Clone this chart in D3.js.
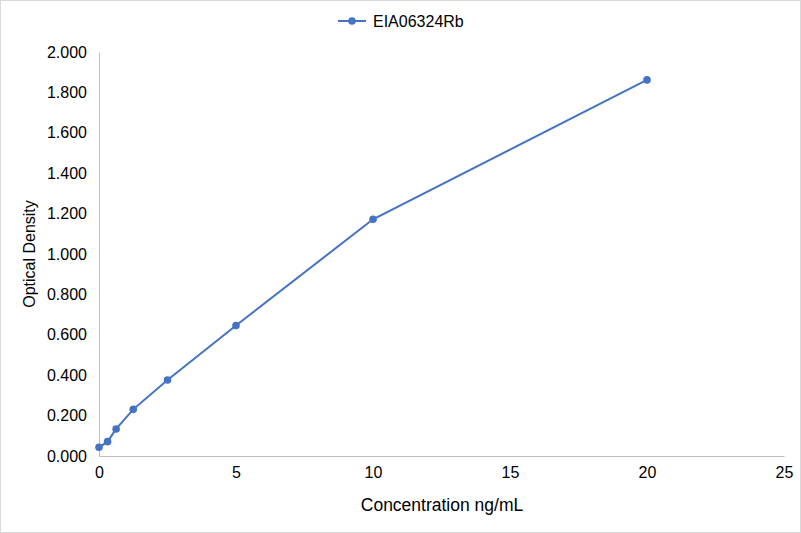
<!DOCTYPE html>
<html>
<head>
<meta charset="utf-8">
<script src="https://cdn.jsdelivr.net/npm/d3@7"></script>
<style>
  body { margin: 0; background: #fff; }
  text { font-family: "Liberation Sans", Arial, sans-serif; fill: #000; }
</style>
</head>
<body>
<script>
// standard curve data
var seriesName = "EIA06324Rb";
var concentrations = [0, 0.3125, 0.625, 1.25, 2.5, 5, 10, 20];
var densities = [0.043, 0.071, 0.134, 0.231, 0.376, 0.646, 1.172, 1.862];
var xTicks = [0, 5, 10, 15, 20, 25];
var yTicks = [0, 0.2, 0.4, 0.6, 0.8, 1.0, 1.2, 1.4, 1.6, 1.8, 2.0];

var W = 801, H = 533;
var margin = {top: 52, right: 17, bottom: 77, left: 99};
var color = "#4472c4";

var svg = d3.select("body").append("svg")
    .attr("width", W)
    .attr("height", H);

// outer chart border
svg.append("rect")
    .attr("x", 0.5).attr("y", 0.5)
    .attr("width", W - 1).attr("height", H - 1)
    .attr("fill", "#fff")
    .attr("stroke", "#d9d9d9");

var x = d3.scaleLinear().domain([0, 25]).range([margin.left, W - margin.right]);
var y = d3.scaleLinear().domain([0, 2]).range([H - margin.bottom, margin.top]);

// y axis
var yAxis = svg.append("g")
    .attr("transform", "translate(" + margin.left + ",0)")
    .call(d3.axisLeft(y).tickValues(yTicks).tickSize(0).tickPadding(12)
      .tickFormat(d3.format(".3f")));
yAxis.select(".domain").attr("stroke", "#bfbfbf");
yAxis.selectAll("text").style("font-size", "16px");

// x axis
var xAxis = svg.append("g")
    .attr("transform", "translate(0," + (H - margin.bottom) + ")")
    .call(d3.axisBottom(x).tickValues(xTicks).tickSize(0).tickPadding(11));
xAxis.select(".domain").attr("stroke", "#bfbfbf");
xAxis.selectAll("text").style("font-size", "16px");

// axis titles
svg.append("text")
    .attr("x", 442)
    .attr("y", 511)
    .attr("text-anchor", "middle")
    .style("font-size", "17.5px")
    .text("Concentration ng/mL");

svg.append("text")
    .attr("transform", "translate(35," + ((margin.top + H - margin.bottom) / 2) + ") rotate(-90)")
    .attr("text-anchor", "middle")
    .style("font-size", "16px")
    .text("Optical Density");

// line + markers
var pts = concentrations.map(function(c, i) { return [c, densities[i]]; });
var line = d3.line()
    .x(function(d) { return x(d[0]); })
    .y(function(d) { return y(d[1]); });

svg.append("path")
    .datum(pts)
    .attr("fill", "none")
    .attr("stroke", color)
    .attr("stroke-width", 2)
    .attr("d", line);

svg.selectAll(".pt")
    .data(pts)
  .enter().append("circle")
    .attr("class", "pt")
    .attr("cx", function(d) { return x(d[0]); })
    .attr("cy", function(d) { return y(d[1]); })
    .attr("r", 3.8)
    .attr("fill", color);

// legend
var lg = svg.append("g").attr("transform", "translate(338,21)");
lg.append("line")
    .attr("x1", 0).attr("x2", 28)
    .attr("stroke", color).attr("stroke-width", 2);
lg.append("circle").attr("cx", 14).attr("r", 3.8).attr("fill", color);
lg.append("text")
    .attr("x", 35).attr("dy", "0.35em")
    .style("font-size", "16px")
    .text(seriesName);
</script>
</body>
</html>
